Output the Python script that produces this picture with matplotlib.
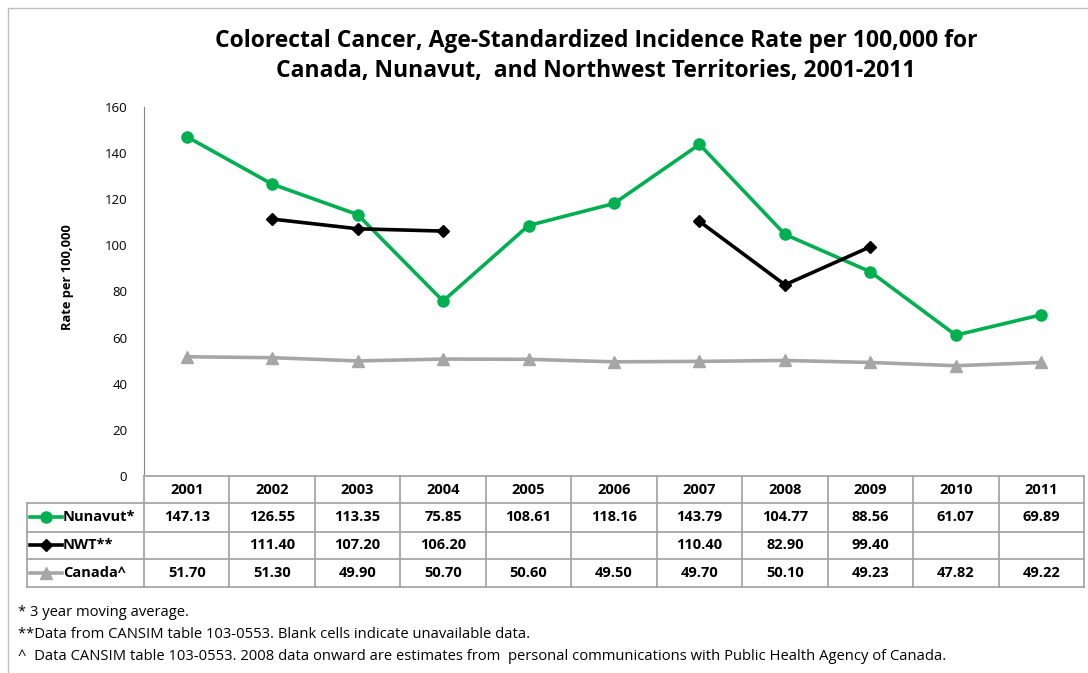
import numpy as np
import matplotlib.pyplot as plt

plt.rcParams['font.family'] = ['Open Sans', 'DejaVu Sans']

# data #########################################################################
years = [2001, 2002, 2003, 2004, 2005, 2006, 2007, 2008, 2009, 2010, 2011]
nunavut = [147.13, 126.55, 113.35, 75.85, 108.61, 118.16, 143.79, 104.77, 88.56, 61.07, 69.89]
nwt = [None, 111.40, 107.20, 106.20, None, None, 110.40, 82.90, 99.40, None, None]
canada = [51.70, 51.30, 49.90, 50.70, 50.60, 49.50, 49.70, 50.10, 49.23, 47.82, 49.22]
series_names = ['Nunavut*', 'NWT**', 'Canada^']
footnotes = ['* 3 year moving average.',
             '**Data from CANSIM table 103-0553. Blank cells indicate unavailable data.',
             '^  Data CANSIM table 103-0553. 2008 data onward are estimates from  personal communications with Public Health Agency of Canada.']
title = ('Colorectal Cancer, Age-Standardized Incidence Rate per 100,000 for\n'
         'Canada, Nunavut,  and Northwest Territories, 2001-2011')
################################################################################

W, H = 1088, 673
fig = plt.figure(figsize=(W / 100, H / 100), dpi=100)

def px(x0, y0, x1, y1):
    # pixel box (top-left origin) -> figure fraction rect
    return [x0 / W, 1 - y1 / H, (x1 - x0) / W, (y1 - y0) / H]

# chart border
fig.add_artist(plt.Rectangle((8 / W, -0.1), 1.2, 1 - 8 / H + 0.1, transform=fig.transFigure,
                             fill=False, edgecolor='#BFBFBF', lw=1))

styles = [dict(color='#00B050', marker='o', ms=8),
          dict(color='black', marker='D', ms=6),
          dict(color='#A6A6A6', marker='^', ms=8)]

ax = fig.add_axes(px(144, 107, 1084, 476))
x = np.arange(len(years))
for vals, st in zip([nunavut, nwt, canada], styles):
    y = np.array([np.nan if v is None else v for v in vals], dtype=float)
    ax.plot(x, y, lw=2.6, **st)
ax.set_xlim(-0.5, len(years) - 0.5)
ax.set_ylim(0, 160)
ax.set_yticks(range(0, 161, 20))
ax.set_xticks([])
for s in ['top', 'right', 'bottom']:
    ax.spines[s].set_visible(False)
ax.spines['left'].set_color('#868686')
ax.tick_params(axis='y', length=0, labelsize=9.5, pad=12)
ax.set_ylabel('Rate per 100,000', fontsize=9.3, fontweight='bold')
ax.yaxis.set_label_coords(-0.074, 0.539)

fig.text(596 / W, 1 - 56 / H, title, ha='center', va='center', fontsize=16.5,
         fontweight='bold', linespacing=1.3)

# data table under the plot
tab = fig.add_axes(px(27, 476, 1084, 587))
leg_w = (144 - 27) / ((1084 - 144) / len(years))
left = -0.5 - leg_w
tab.set_xlim(left, len(years) - 0.5)
tab.set_ylim(4, 0)
tab.axis('off')
row_y = [0, 0.97, 2.0, 3.0, 4.0]
gc = '#A0A0A0'
tab.plot([-0.5, len(years) - 0.5], [0, 0], color=gc, lw=1.2, clip_on=False)
for r in row_y[1:]:
    tab.plot([left, len(years) - 0.5], [r, r], color=gc, lw=1.2, clip_on=False)
for i in range(len(years) + 1):
    tab.plot([i - 0.5, i - 0.5], [0, 4], color=gc, lw=1.2, clip_on=False)
tab.plot([left, left], [row_y[1], 4], color=gc, lw=1.2, clip_on=False)
for i, yr in enumerate(years):
    tab.text(i, 0.5, str(yr), ha='center', va='center', fontsize=10.5, fontweight='bold')
for r, (name, vals, st) in enumerate(zip(series_names, [nunavut, nwt, canada], styles)):
    yc = (row_y[r + 1] + row_y[r + 2]) / 2
    tab.plot([left + 0.04, left + 0.41], [yc, yc], lw=2.6, color=st['color'], clip_on=False)
    tab.plot([left + 0.225], [yc], color=st['color'], marker=st['marker'], ms=st['ms'],
             clip_on=False)
    tab.text(left + 0.42, yc, name, ha='left', va='center', fontsize=10.5, fontweight='bold')
    for i, v in enumerate(vals):
        if v is not None:
            tab.text(i, yc, f'{v:.2f}', ha='center', va='center', fontsize=10.5,
                     fontweight='bold')

for k, note in enumerate(footnotes):
    fig.text(18 / W, 1 - (612 + 22 * k) / H, note, ha='left', va='center', fontsize=10.65)

fig.savefig('out.png', dpi=100)
